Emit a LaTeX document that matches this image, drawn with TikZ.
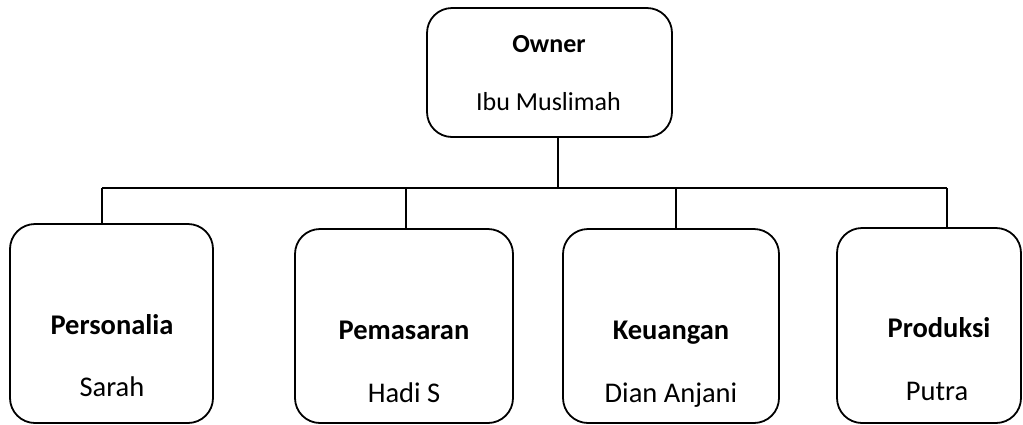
\documentclass[tikz,border=0pt]{standalone}
\usepackage{fontspec}
\setmainfont{Carlito}
\begin{document}
\begin{tikzpicture}[x=1pt,y=-1pt,
  box/.style={draw,line width=1.8pt,rounded corners=25pt,inner sep=0pt},
  headtxt/.style={anchor=base,inner sep=0pt,font=\fontsize{28.5}{30}\selectfont\bfseries},
  persontxt/.style={anchor=base,inner sep=0pt,font=\fontsize{28.5}{30}\selectfont},
  topsize/.style={font=\fontsize{26}{28}\selectfont},
  conn/.style={line width=1.5pt}]
\useasboundingbox (0,0) rectangle (1023,424);
% boxes
\node[box,minimum width=245pt,minimum height=129pt] (owner) at (549.5,72.5) {};
\node[box,minimum width=203pt,minimum height=199pt] (pers) at (111.5,323.5) {};
\node[box,minimum width=218pt,minimum height=194pt] (pema) at (404,326) {};
\node[box,minimum width=216pt,minimum height=194pt] (keu) at (671,326) {};
\node[box,minimum width=184pt,minimum height=195pt] (prod) at (929,325.5) {};
% texts
\node[headtxt,topsize] (ownerT) at (549,52) {\bfseries Owner};
\node[persontxt,topsize] (ownerN) at (548.5,110) {Ibu Muslimah};
\node[headtxt] (persT) at (112,334) {Personalia};
\node[persontxt] (persN) at (112,396) {Sarah};
\node[headtxt] (pemaT) at (404,339) {Pemasaran};
\node[persontxt] (pemaN) at (404,402) {Hadi S};
\node[headtxt] (keuT) at (671,339) {Keuangan};
\node[persontxt] (keuN) at (671,402) {Dian Anjani};
\node[headtxt] (prodT) at (939,337) {Produksi};
\node[persontxt] (prodN) at (937,400) {Putra};
% connectors
\coordinate (trunk) at (558,188);
\coordinate (hl) at (102,188);
\coordinate (hr) at (947,188);
\coordinate (d2) at (406,188);
\coordinate (d3) at (676,188);
\draw[conn] (owner.south -| trunk) -- (trunk);
\draw[conn] (hl) -- (hr);
\draw[conn] (hl) -- (pers.north -| hl);
\draw[conn] (d2) -- (pema.north -| d2);
\draw[conn] (d3) -- (keu.north -| d3);
\draw[conn] (hr) -- (prod.north -| hr);
\end{tikzpicture}
\end{document}
